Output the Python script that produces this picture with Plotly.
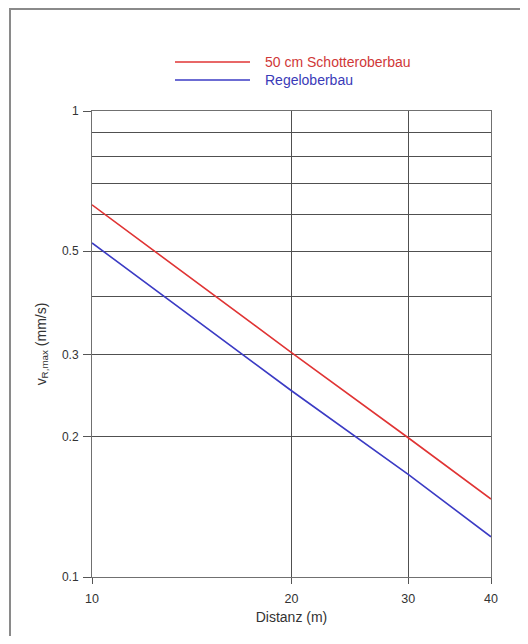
import plotly.graph_objects as go

distance = [10, 20, 30, 40]
schotter = [0.629, 0.303, 0.199, 0.147]
regel = [0.521, 0.251, 0.166, 0.122]
series_names = ["50 cm Schotteroberbau", "Regeloberbau"]
y_tick_vals = [0.1, 0.2, 0.3, 0.5, 1]
y_tick_text = ["0.1", "0.2", "0.3", "0.5", "1"]
y_minor_vals = [0.4, 0.6, 0.7, 0.8, 0.9]
x_tick_vals = [10, 20, 30, 40]

RED = "#e03434"
BLUE = "#3b3bc4"
GRID = "#505050"

fig = go.Figure()
fig.add_trace(go.Scatter(x=distance, y=schotter, mode="lines", name=series_names[0],
                         line=dict(color=RED, width=1.6)))
fig.add_trace(go.Scatter(x=distance, y=regel, mode="lines", name=series_names[1],
                         line=dict(color=BLUE, width=1.6)))

# page body has an 8px margin on every side; size the figure so no scrollbars appear
OFF = 8
W, H = 528 - 2 * OFF, 644 - 2 * OFF
L, T = 92 - OFF, 111 - OFF
R, B = W - (491 - OFF), H - (577 - OFF)
pw, ph = W - L - R, H - T - B

def px(x):
    return (x - OFF - L) / pw

def py(y):
    return (H - B - (y - OFF)) / ph

BORDER = dict(color="#8a8a8a", width=2)
shapes = [
    dict(type="line", xref="paper", yref="paper", x0=px(10), x1=px(10), y0=py(9), y1=-0.4, line=BORDER),
    dict(type="line", xref="paper", yref="paper", x0=px(9), x1=1.4, y0=py(9), y1=py(9), line=BORDER),
    dict(type="line", xref="paper", yref="paper", x0=px(175), x1=px(250), y0=py(62), y1=py(62),
         line=dict(color=RED, width=1.6)),
    dict(type="line", xref="paper", yref="paper", x0=px(175), x1=px(250), y0=py(80), y1=py(80),
         line=dict(color=BLUE, width=1.6)),
]
annotations = [
    dict(xref="paper", yref="paper", x=px(263), y=py(62), text=series_names[0], showarrow=False,
         xanchor="left", yanchor="middle", font=dict(color="#d03838", size=14)),
    dict(xref="paper", yref="paper", x=px(263), y=py(80), text=series_names[1], showarrow=False,
         xanchor="left", yanchor="middle", font=dict(color="#3a3ab8", size=14)),
]

fig.update_layout(
    width=W, height=H,
    margin=dict(l=L, r=R, t=T, b=B, pad=0),
    paper_bgcolor="white", plot_bgcolor="white",
    showlegend=False,
    font=dict(family="Liberation Sans, Arial, sans-serif", size=12, color="#333333"),
    shapes=shapes, annotations=annotations,
)
fig.update_xaxes(
    type="log", range=[1, 1.60206], tickvals=x_tick_vals, ticktext=[str(v) for v in x_tick_vals],
    showgrid=True, gridcolor=GRID, gridwidth=1,
    showline=True, linecolor="#707070", linewidth=1, mirror=True,
    ticks="outside", ticklen=6, tickcolor="#555555", ticklabelstandoff=4,
    tickfont=dict(size=12.5),
    title=dict(text="Distanz (m)", standoff=7, font=dict(size=14)),
    zeroline=False,
)
fig.update_yaxes(
    type="log", range=[-1, 0], tickvals=y_tick_vals, ticktext=y_tick_text,
    showgrid=True, gridcolor=GRID, gridwidth=1,
    minor=dict(tickvals=y_minor_vals, showgrid=True, gridcolor=GRID, gridwidth=1, ticks=""),
    showline=True, linecolor="#707070", linewidth=1, mirror=True,
    ticks="outside", ticklen=8, tickcolor="#555555", ticklabelstandoff=2,
    title=dict(text="v<sub>R,max</sub> (mm/s)", standoff=12, font=dict(size=14)),
    zeroline=False,
)

fig.write_html("out.html")
